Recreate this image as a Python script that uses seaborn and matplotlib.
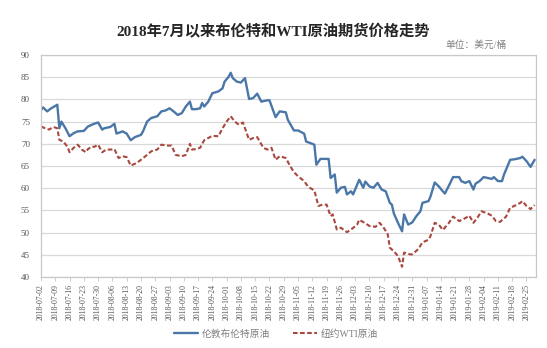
import matplotlib
matplotlib.use("Agg")
import matplotlib.pyplot as plt
import matplotlib.dates as mdates
import pandas as pd
import seaborn as sns

# Brent crude futures settlement (USD/bbl)
brent_dates = [
    "2018-07-02", "2018-07-03", "2018-07-05", "2018-07-07", "2018-07-10", "2018-07-11",
    "2018-07-12", "2018-07-14", "2018-07-16", "2018-07-18", "2018-07-20", "2018-07-23",
    "2018-07-25", "2018-07-28", "2018-07-30", "2018-08-01", "2018-08-02", "2018-08-05",
    "2018-08-07", "2018-08-08", "2018-08-11", "2018-08-13", "2018-08-15", "2018-08-17",
    "2018-08-20", "2018-08-21", "2018-08-23", "2018-08-25", "2018-08-28", "2018-08-30",
    "2018-09-01", "2018-09-03", "2018-09-05", "2018-09-07", "2018-09-09", "2018-09-11",
    "2018-09-13", "2018-09-14", "2018-09-16", "2018-09-18", "2018-09-19", "2018-09-20",
    "2018-09-22", "2018-09-24", "2018-09-27", "2018-09-29", "2018-09-30", "2018-10-02",
    "2018-10-03", "2018-10-04", "2018-10-06", "2018-10-08", "2018-10-10", "2018-10-12",
    "2018-10-14", "2018-10-16", "2018-10-18", "2018-10-21", "2018-10-22", "2018-10-25",
    "2018-10-27", "2018-10-30", "2018-10-31", "2018-11-03", "2018-11-05", "2018-11-08",
    "2018-11-09", "2018-11-12", "2018-11-13", "2018-11-14", "2018-11-16", "2018-11-18",
    "2018-11-20", "2018-11-21", "2018-11-23", "2018-11-24", "2018-11-26", "2018-11-28",
    "2018-11-29", "2018-12-01", "2018-12-02", "2018-12-04", "2018-12-05", "2018-12-07",
    "2018-12-08", "2018-12-10", "2018-12-12", "2018-12-14", "2018-12-16", "2018-12-18",
    "2018-12-20", "2018-12-21", "2018-12-22", "2018-12-24", "2018-12-26", "2018-12-27",
    "2018-12-29", "2018-12-31", "2019-01-02", "2019-01-04", "2019-01-05", "2019-01-08",
    "2019-01-09", "2019-01-11", "2019-01-13", "2019-01-15", "2019-01-16", "2019-01-18",
    "2019-01-20", "2019-01-23", "2019-01-24", "2019-01-26", "2019-01-28", "2019-01-30",
    "2019-01-31", "2019-02-02", "2019-02-04", "2019-02-06", "2019-02-08", "2019-02-09",
    "2019-02-11", "2019-02-13", "2019-02-14", "2019-02-17", "2019-02-19", "2019-02-22",
    "2019-02-23", "2019-02-25", "2019-02-27", "2019-03-01",
]
brent_prices = [
    77.6, 78.2, 77.3, 78.0, 78.8, 73.5,
    75.0, 73.5, 71.7, 72.4, 72.8, 72.9,
    73.9, 74.5, 74.8, 73.2, 73.5, 73.8,
    74.5, 72.3, 72.8, 72.3, 70.8, 71.5,
    72.0, 72.8, 75.0, 75.8, 76.2, 77.3,
    77.5, 78.0, 77.3, 76.5, 76.9, 78.4,
    79.5, 77.8, 77.8, 78.0, 79.2, 78.4,
    79.5, 81.4, 81.8, 82.5, 84.0, 85.1,
    86.0, 84.8, 84.0, 83.8, 84.8, 80.1,
    80.3, 81.3, 79.5, 79.8, 79.8, 76.0,
    77.3, 77.1, 75.4, 73.0, 73.0, 72.3,
    70.5, 70.0, 69.8, 65.3, 66.6, 66.6,
    66.6, 62.3, 63.1, 59.0, 60.1, 60.3,
    58.6, 59.3, 58.6, 60.8, 61.9, 60.1,
    61.5, 60.4, 60.1, 61.2, 59.7, 59.3,
    56.7, 56.3, 54.3, 52.2, 50.3, 54.1,
    51.8, 52.3, 53.7, 54.8, 56.7, 57.1,
    58.2, 61.3, 60.4, 59.3, 58.8, 60.6,
    62.5, 62.5, 61.6, 61.2, 61.6, 59.7,
    61.0, 61.6, 62.5, 62.3, 62.1, 62.5,
    61.6, 61.6, 63.1, 66.4, 66.5, 66.8,
    67.1, 66.1, 64.8, 66.4,
]

# NYMEX WTI crude futures settlement (USD/bbl)
wti_dates = [
    "2018-07-02", "2018-07-04", "2018-07-06", "2018-07-08", "2018-07-10", "2018-07-11",
    "2018-07-13", "2018-07-15", "2018-07-16", "2018-07-18", "2018-07-20", "2018-07-22",
    "2018-07-24", "2018-07-25", "2018-07-27", "2018-07-28", "2018-07-30", "2018-08-01",
    "2018-08-03", "2018-08-05", "2018-08-07", "2018-08-09", "2018-08-11", "2018-08-13",
    "2018-08-15", "2018-08-18", "2018-08-20", "2018-08-23", "2018-08-25", "2018-08-28",
    "2018-08-30", "2018-09-02", "2018-09-04", "2018-09-06", "2018-09-09", "2018-09-11",
    "2018-09-13", "2018-09-14", "2018-09-16", "2018-09-18", "2018-09-20", "2018-09-22",
    "2018-09-24", "2018-09-27", "2018-09-29", "2018-10-01", "2018-10-03", "2018-10-05",
    "2018-10-07", "2018-10-09", "2018-10-12", "2018-10-14", "2018-10-16", "2018-10-19",
    "2018-10-21", "2018-10-23", "2018-10-25", "2018-10-27", "2018-10-30", "2018-11-01",
    "2018-11-03", "2018-11-05", "2018-11-08", "2018-11-10", "2018-11-13", "2018-11-15",
    "2018-11-17", "2018-11-19", "2018-11-21", "2018-11-22", "2018-11-24", "2018-11-26",
    "2018-11-29", "2018-12-01", "2018-12-04", "2018-12-05", "2018-12-08", "2018-12-10",
    "2018-12-13", "2018-12-15", "2018-12-17", "2018-12-19", "2018-12-20", "2018-12-22",
    "2018-12-24", "2018-12-26", "2018-12-27", "2018-12-30", "2018-12-31", "2019-01-03",
    "2019-01-05", "2019-01-08", "2019-01-09", "2019-01-11", "2019-01-13", "2019-01-15",
    "2019-01-18", "2019-01-20", "2019-01-23", "2019-01-25", "2019-01-28", "2019-01-30",
    "2019-02-01", "2019-02-03", "2019-02-06", "2019-02-08", "2019-02-10", "2019-02-12",
    "2019-02-15", "2019-02-17", "2019-02-19", "2019-02-22", "2019-02-23", "2019-02-25",
    "2019-02-27", "2019-03-01",
]
wti_prices = [
    73.9, 73.5, 73.2, 73.8, 73.5, 70.9,
    70.5, 69.3, 68.1, 69.1, 69.8, 68.7,
    68.1, 68.8, 69.4, 69.3, 69.8, 68.1,
    68.7, 68.7, 68.8, 66.8, 67.2, 67.0,
    65.1, 65.7, 66.4, 67.5, 68.3, 68.7,
    69.8, 69.6, 69.6, 67.5, 67.2, 67.5,
    70.0, 68.7, 68.8, 69.1, 70.8, 71.3,
    71.8, 71.7, 73.5, 75.0, 76.2, 75.0,
    74.3, 74.8, 70.9, 71.3, 71.5, 69.1,
    68.7, 69.1, 66.4, 67.2, 66.8, 65.1,
    63.6, 62.7, 61.6, 60.3, 59.5, 56.0,
    56.3, 56.3, 53.7, 54.1, 50.7, 51.1,
    50.1, 50.7, 51.8, 52.9, 52.1, 51.5,
    51.3, 52.2, 51.1, 49.6, 46.6, 45.8,
    44.7, 42.3, 45.5, 45.1, 45.1, 46.3,
    47.8, 48.4, 49.3, 52.2, 51.8, 50.6,
    52.2, 53.6, 52.6, 53.0, 53.8, 52.2,
    53.4, 54.8, 54.3, 53.8, 52.6, 52.4,
    53.6, 55.6, 56.0, 56.7, 57.1, 56.0,
    55.3, 56.2,
]

series_names = ["伦敦布伦特原油", "纽约WTI原油"]
title_text = "2018年7月以来布伦特和WTI原油期货价格走势"
unit_text = "单位：美元/桶"
y_ticks = [40, 45, 50, 55, 60, 65, 70, 75, 80, 85, 90]

sns.set_theme(style="white")
plt.rcParams["font.family"] = ["Liberation Serif", "Noto Sans CJK SC", "DejaVu Sans"]

brent = pd.DataFrame({"date": pd.to_datetime(brent_dates), "price": brent_prices})
wti = pd.DataFrame({"date": pd.to_datetime(wti_dates), "price": wti_prices})

fig = plt.figure(figsize=(5.47, 3.48), dpi=100)
ax = fig.add_axes([41 / 547, 1 - 277 / 348, 495 / 547, 222 / 348])

grid_c = "#d9d9d9"
ax.set_ylim(40, 90)
ax.set_yticks(y_ticks)
ax.yaxis.grid(True, color=grid_c, linewidth=0.9)
ax.set_axisbelow(True)

sns.lineplot(data=brent, x="date", y="price", ax=ax, color="#4a77a8",
             linewidth=1.7, label=series_names[0])
sns.lineplot(data=wti, x="date", y="price", ax=ax, color="#a8483f",
             linewidth=1.5, linestyle=(0, (2.2, 1.2)), label=series_names[1])

ax.set_xlim(pd.Timestamp("2018-07-02"), pd.Timestamp("2019-03-01 16:00"))
ax.xaxis.set_major_locator(mdates.WeekdayLocator(byweekday=mdates.MO, interval=1))
ax.xaxis.set_major_formatter(mdates.DateFormatter("%Y-%m-%d"))
ax.set_xlabel("")
ax.set_ylabel("")

for side in ["top", "right", "left", "bottom"]:
    ax.spines[side].set_visible(True)
    ax.spines[side].set_color("#c8c8c8")
    ax.spines[side].set_linewidth(0.9)

ax.tick_params(axis="x", labelrotation=90, labelsize=5.6, colors="#555555",
               length=3, width=0.6, pad=2, bottom=True, color="#c8c8c8")
ax.tick_params(axis="y", labelsize=6.5, colors="#555555", length=0, pad=8)

leg = ax.legend(loc="center", bbox_to_anchor=(276 / 547, 1 - 334 / 348),
                bbox_transform=fig.transFigure, ncol=2, frameon=False,
                fontsize=7, handlelength=2.4, columnspacing=2.4,
                handletextpad=0.4, borderpad=0)
for t in leg.get_texts():
    t.set_color("#808080")

fig.text(0.5, 1 - 32 / 348, title_text, ha="center", va="center",
         fontsize=11, fontweight="bold", color="#262626")
fig.text(507 / 547, 1 - 45 / 348, unit_text, ha="right", va="center",
         fontsize=7, color="#808080")

fig.savefig("out.png", dpi=100)
